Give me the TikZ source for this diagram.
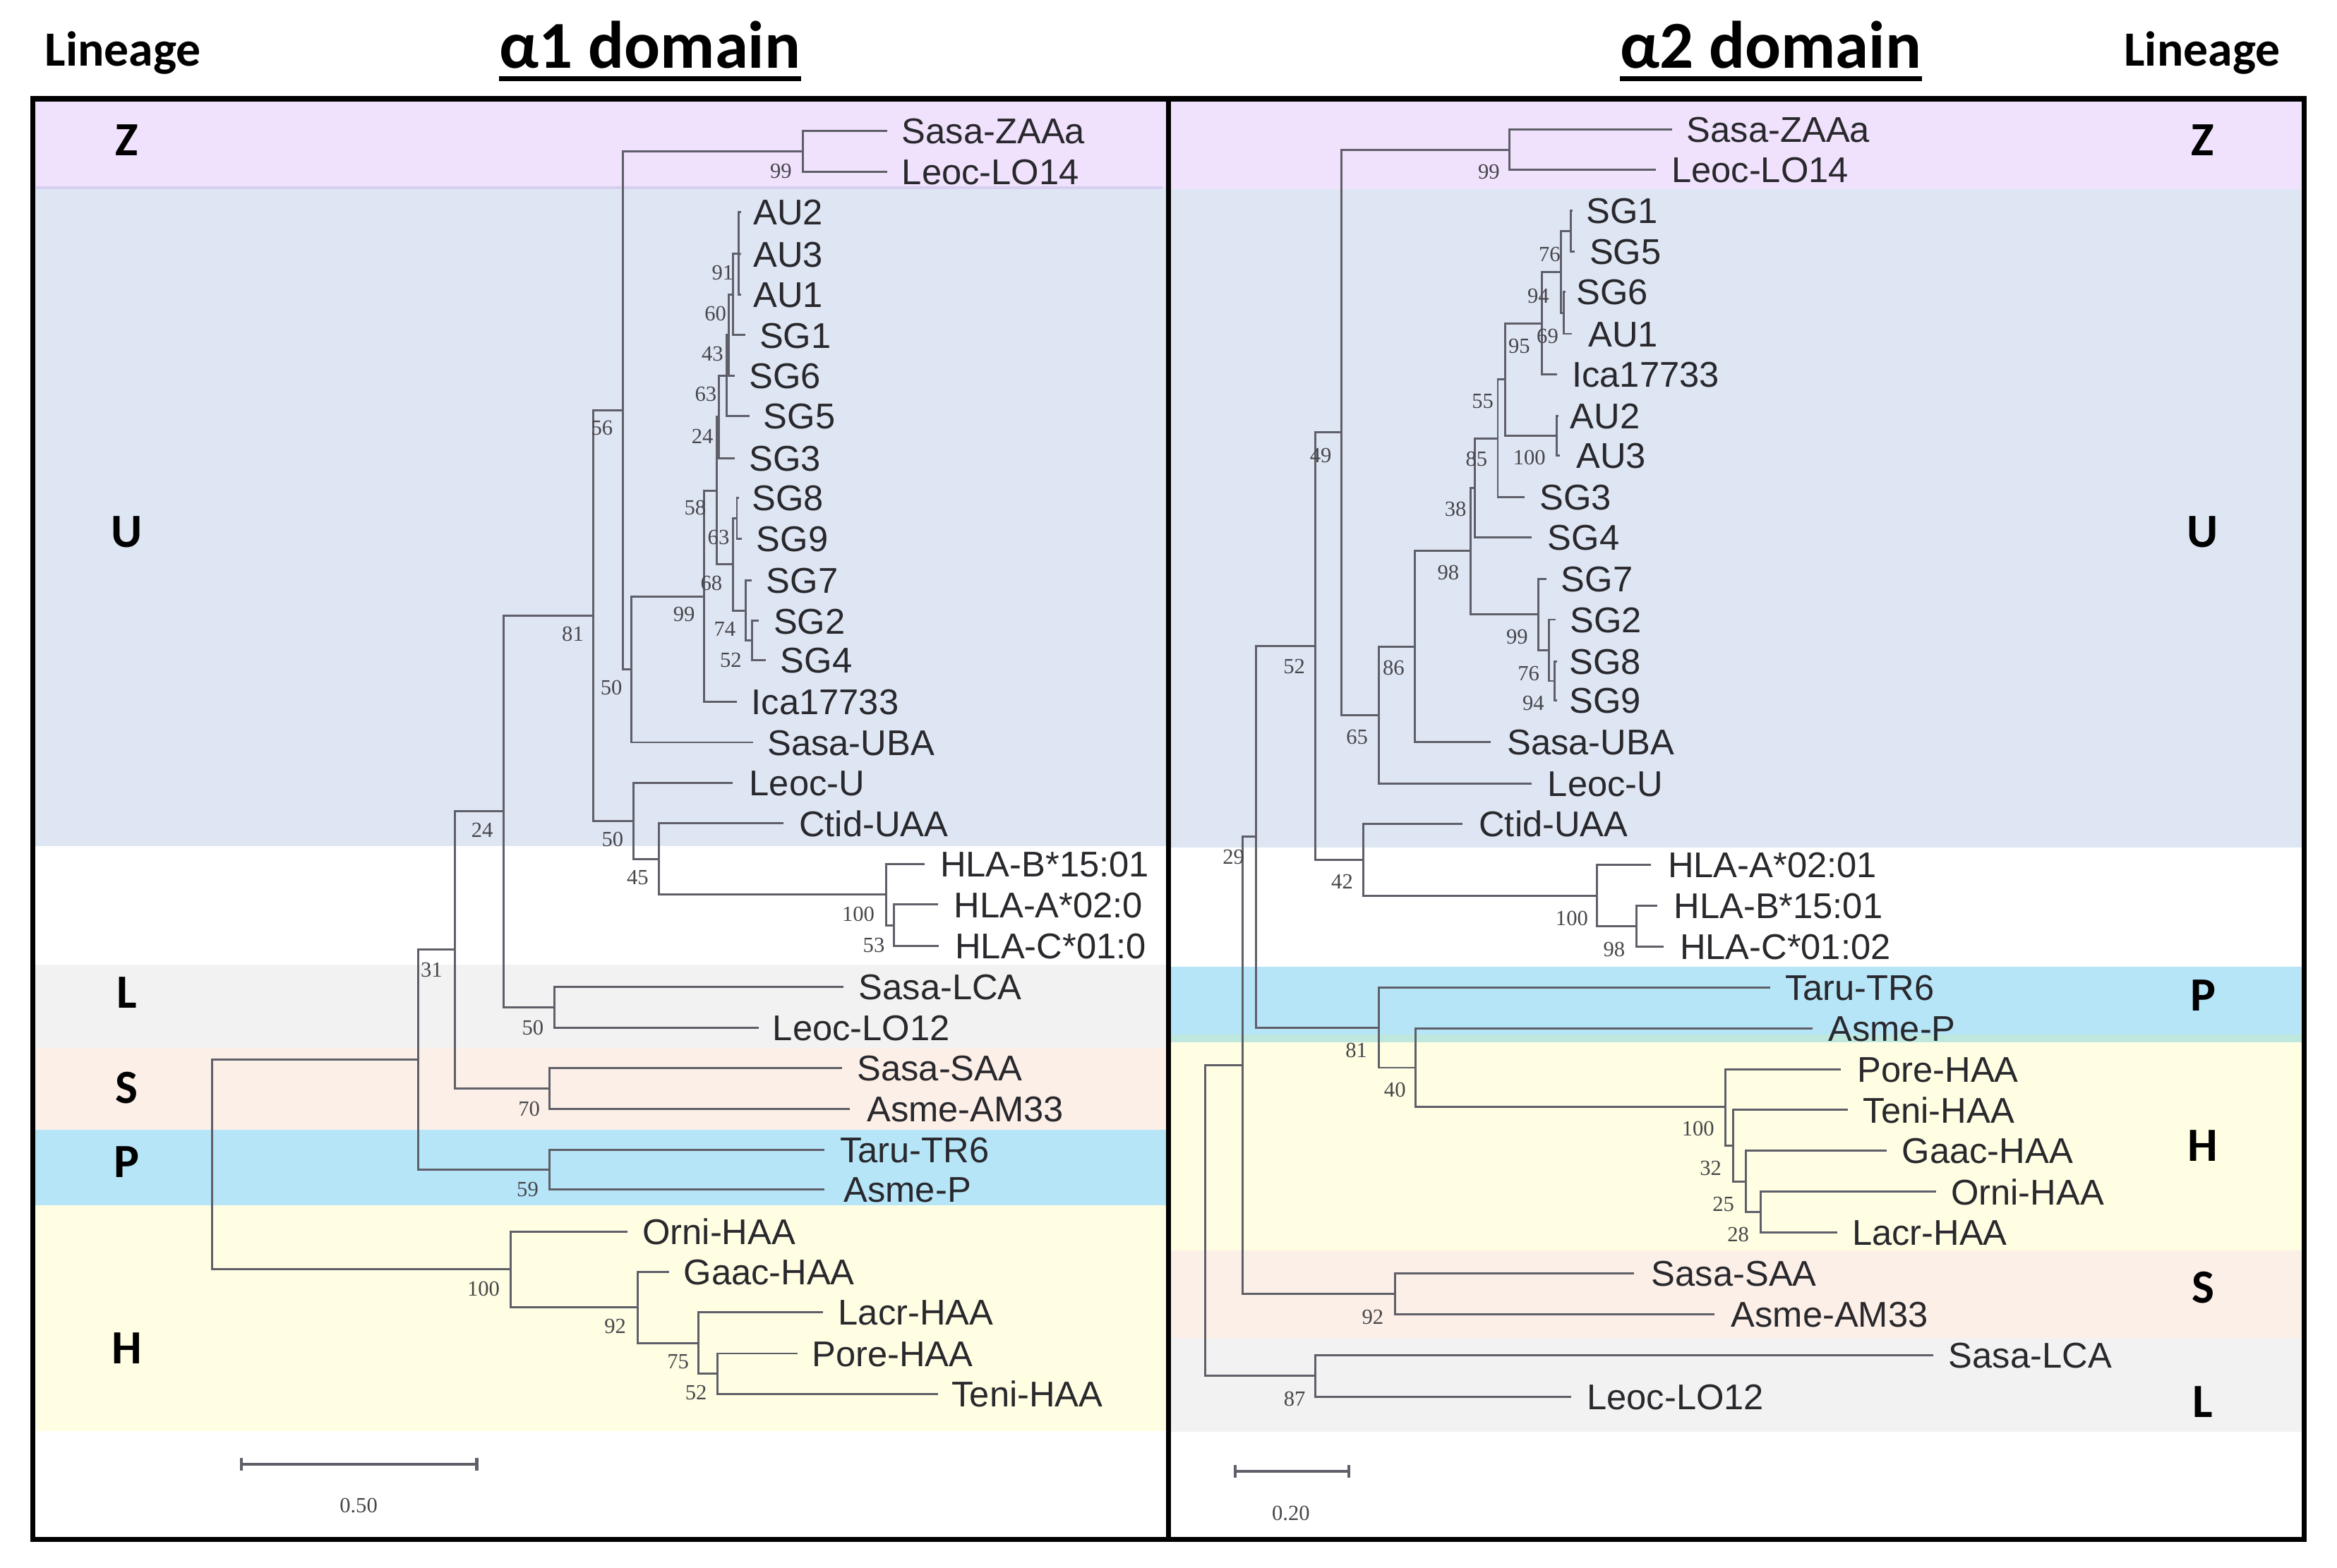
\documentclass[tikz,border=0pt]{standalone}
\usepackage{fontspec}
\setmainfont{Liberation Sans}
\newfontfamily\bootf{Liberation Serif}
\newfontfamily\hdrf{Carlito}
\definecolor{zcol}{RGB}{240,225,252}
\definecolor{zline}{RGB}{216,206,240}
\definecolor{ucol}{RGB}{223,230,243}
\definecolor{lcol}{RGB}{242,242,242}
\definecolor{scol}{RGB}{252,239,231}
\definecolor{pcol}{RGB}{183,229,248}
\definecolor{phcol}{RGB}{190,232,222}
\definecolor{hcol}{RGB}{255,254,227}
\definecolor{treecol}{RGB}{95,95,105}
\definecolor{txtcol}{RGB}{40,40,45}
\definecolor{bootcol}{RGB}{70,70,75}
\tikzset{
 brl/.style={draw=treecol, line width=1.4pt},
 leaf/.style={anchor=west, inner sep=0pt, text height=17.2pt, text depth=0pt, font=\fontsize{24}{28}\selectfont, text=txtcol},
 boot/.style={inner sep=0pt, font=\bootf\fontsize{14.5}{17}\selectfont, text=bootcol},
 lin/.style={inner sep=0pt, font=\hdrf\bfseries\fontsize{32}{36}\selectfont},
 hdr/.style={anchor=base west, inner sep=0pt, font=\hdrf\bfseries\fontsize{33}{38}\selectfont},
 ttl/.style={anchor=base west, inner sep=0pt, font=\hdrf\bfseries\fontsize{45}{50}\selectfont},
 panelframe/.style={draw=black, line width=3.5pt},
 scalebar/.style={draw=treecol, line width=2pt},
}
\newcommand\LF[5]{\coordinate (#1) at (#2,#3);\node[leaf] (#1t) at (#4,#3) {#5};}
\newcommand\BS[4]{\node[boot] (#1) at (#2,#3) {#4};}
\newcommand\BR[3]{\draw[brl] (#1) |- (#2) (#1) |- (#3);}
\begin{document}
\begin{tikzpicture}[x=1pt,y=-1pt]
\useasboundingbox (0,0) rectangle (1568,1052);
\fill[white] (0,0) rectangle (1568,1052);
% ---------- bands left ----------
\fill[zcol] (22,66) rectangle (784,125.5);
\fill[ucol] (22,125.5) rectangle (784,568);
\fill[lcol] (22,647.6) rectangle (784,703.1);
\fill[scol] (22,703.1) rectangle (784,758.4);
\fill[pcol] (22,758.4) rectangle (784,808.8);
\fill[hcol] (22,808.8) rectangle (784,960.4);
\draw[zline, line width=1.5pt] (24,126) -- (780,126);
% ---------- bands right ----------
\fill[zcol] (784,66) rectangle (1546,127);
\fill[ucol] (784,127) rectangle (1546,568.9);
\fill[pcol] (784,648.8) rectangle (1546,694.1);
\fill[phcol] (784,694.1) rectangle (1546,699.5);
\fill[hcol] (784,699.5) rectangle (1546,839.1);
\fill[scol] (784,839.1) rectangle (1546,897.9);
\fill[lcol] (784,897.9) rectangle (1546,960.8);
% ---------- headers ----------
\node[hdr] (hl) at (30,44.2) {Lineage};
\node[hdr] (hr) at (1425,44.2) {Lineage};
\node[ttl] (t1) at (335,45.8) {α1 domain};
\node[ttl] (t2) at (1087,45.8) {α2 domain};
\draw[line width=3pt] ([yshift=-7pt]t1.base west) -- ([yshift=-7pt]t1.base east);
\draw[line width=3pt] ([yshift=-7pt]t2.base west) -- ([yshift=-7pt]t2.base east);
% ---------- lineage letters ----------
\node[lin] (lzl) at (85,94) {Z};
\node[lin] (lul) at (85,357) {U};
\node[lin] (lll) at (85,666) {L};
\node[lin] (lsl) at (85,730) {S};
\node[lin] (lpl) at (85,780) {P};
\node[lin] (lhl) at (85,905) {H};
\node[lin] (lzr) at (1478,94) {Z};
\node[lin] (lur) at (1478,357) {U};
\node[lin] (lpr) at (1478,668) {P};
\node[lin] (lhr) at (1478,769) {H};
\node[lin] (lsr) at (1478,864) {S};
\node[lin] (llr) at (1478,941) {L};
% ---------- left tree: leaves ----------
\LF{aZa}{595.5}{87.7}{605}{Sasa-ZAAa}
\LF{aLO14}{595.5}{115.2}{605}{Leoc-LO14}
\LF{aAU2}{497.1}{142.4}{505.3}{AU2}
\LF{aAU3}{497.1}{170.5}{505.3}{AU3}
\LF{aAU1}{497.1}{197.7}{505.3}{AU1}
\LF{aSG1}{499.9}{224.9}{509.4}{SG1}
\LF{aSG6}{493}{252.1}{502.6}{SG6}
\LF{aSG5}{503.1}{279.3}{512.1}{SG5}
\LF{aSG3}{493}{307.4}{502.6}{SG3}
\LF{aSG8}{496}{334.2}{504.5}{SG8}
\LF{aSG9}{497.7}{361.4}{507.4}{SG9}
\LF{aSG7}{504.5}{389.5}{514}{SG7}
\LF{aSG2}{509.3}{416.7}{518.9}{SG2}
\LF{aSG4}{514}{443}{523.5}{SG4}
\LF{aIca}{494.4}{471.1}{504}{Ica17733}
\LF{aUBA}{505.3}{498.2}{514.8}{Sasa-UBA}
\LF{aLU}{491.7}{525.4}{502.6}{Leoc-U}
\LF{aCt}{525.7}{552.6}{536}{Ctid-UAA}
\LF{aHB}{620.2}{580}{630.7}{HLA-B*15:01}
\LF{aHA}{629.3}{607.1}{639.8}{HLA-A*02:0}
\LF{aHC}{629.7}{634.7}{640.7}{HLA-C*01:0}
\LF{aLCA}{566}{662.4}{576}{Sasa-LCA}
\LF{aLO12}{509}{689.6}{518.3}{Leoc-LO12}
\LF{aSAA}{565}{716.8}{575}{Sasa-SAA}
\LF{aAM}{570.4}{744}{581.5}{Asme-AM33}
\LF{aTR}{553}{771.5}{563.5}{Taru-TR6}
\LF{aAP}{553.3}{798.3}{566}{Asme-P}
\LF{aOr}{420.9}{826.5}{430.9}{Orni-HAA}
\LF{aGa}{449}{853.7}{458.5}{Gaac-HAA}
\LF{aLa}{552.3}{880.7}{562.3}{Lacr-HAA}
\LF{aPo}{535.1}{908.3}{544.6}{Pore-HAA}
\LF{aTe}{629.3}{935.4}{638.4}{Teni-HAA}
% ---------- left tree: internal nodes ----------
\coordinate (lroot) at (142.3,781.5);
\coordinate (lX) at (280.5,711.2);
\coordinate (l31) at (305.4,637.4);
\coordinate (l24) at (337.9,544.5);
\coordinate (lL) at (372,676);
\coordinate (lS) at (368.8,730.4);
\coordinate (lP) at (368.8,785);
\coordinate (l81) at (397.9,413);
\coordinate (l56) at (417.7,275.4);
\coordinate (lZ) at (538.7,101.6);
\coordinate (l50a) at (423.7,449.2);
\coordinate (l99) at (472.6,400.2);
\coordinate (l58) at (480.8,329.3);
\coordinate (l24s) at (482.2,279.8);
\coordinate (l63) at (487.6,252.1);
\coordinate (l43) at (489,224.9);
\coordinate (l60) at (491.7,197.6);
\coordinate (l91) at (495.7,170.3);
\coordinate (l68) at (491.7,378.8);
\coordinate (l63b) at (494.4,347.8);
\coordinate (l74) at (500.4,409.9);
\coordinate (l52) at (504.7,429.8);
\coordinate (l50b) at (425.1,550.8);
\coordinate (l45) at (441.9,576.4);
\coordinate (l100) at (594.4,600.3);
\coordinate (l53) at (599.9,620.9);
\coordinate (lH) at (342.5,851.8);
\coordinate (l92) at (427.7,877.5);
\coordinate (l75) at (468.5,901.5);
\coordinate (l52h) at (481.2,921.9);
\BR{lroot}{lX}{lH}
\BR{lX}{l31}{lP}
\BR{l31}{l24}{lS}
\BR{l24}{l81}{lL}
\BR{lL}{aLCA}{aLO12}
\BR{lS}{aSAA}{aAM}
\BR{lP}{aTR}{aAP}
\BR{l81}{l56}{l50b}
\BR{l56}{lZ}{l50a}
\BR{lZ}{aZa}{aLO14}
\BR{l50a}{l99}{aUBA}
\BR{l99}{l58}{aIca}
\BR{l58}{l24s}{l68}
\BR{l24s}{l63}{aSG3}
\BR{l63}{l43}{aSG5}
\BR{l43}{l60}{aSG6}
\BR{l60}{l91}{aSG1}
\BR{l91}{aAU2}{aAU1}
\draw[brl] (l91) -- (aAU3);
\BR{l68}{l63b}{l74}
\BR{l63b}{aSG8}{aSG9}
\BR{l74}{aSG7}{l52}
\BR{l52}{aSG2}{aSG4}
\BR{l50b}{aLU}{l45}
\BR{l45}{aCt}{l100}
\BR{l100}{aHB}{l53}
\BR{l53}{aHA}{aHC}
\BR{lH}{aOr}{l92}
\BR{l92}{aGa}{l75}
\BR{l75}{aLa}{l52h}
\BR{l52h}{aPo}{aTe}
% ---------- left bootstrap ----------
\BS{ba1}{524}{115}{99}
\BS{ba2}{484.9}{183.2}{91}
\BS{ba3}{480}{210.4}{60}
\BS{ba4}{478}{237.6}{43}
\BS{ba5}{473.5}{264.7}{63}
\BS{ba6}{471.3}{292.9}{24}
\BS{ba7}{403.9}{287.4}{56}
\BS{ba8}{466.4}{340.9}{58}
\BS{ba9}{482.1}{360.5}{63}
\BS{ba10}{477.3}{391.3}{68}
\BS{ba11}{459}{412.2}{99}
\BS{ba12}{486.3}{422.1}{74}
\BS{ba13}{490.3}{443}{52}
\BS{ba14}{384.3}{425.7}{81}
\BS{ba15}{410.2}{461.6}{50}
\BS{ba16}{411}{563.5}{50}
\BS{ba17}{427.8}{588.8}{45}
\BS{ba18}{575.9}{613.5}{100}
\BS{ba19}{586.3}{634.3}{53}
\BS{ba20}{323.5}{557}{24}
\BS{ba21}{289.5}{650.8}{31}
\BS{ba22}{357.5}{689.6}{50}
\BS{ba23}{355}{744}{70}
\BS{ba24}{354}{798}{59}
\BS{ba25}{324.4}{864.9}{100}
\BS{ba26}{412.8}{889.9}{92}
\BS{ba27}{454.9}{914}{75}
\BS{ba28}{467}{934.6}{52}
% ---------- right tree: leaves ----------
\LF{bZa}{1122}{86.8}{1131.6}{Sasa-ZAAa}
\LF{bLO14}{1111.2}{114}{1121.3}{Leoc-LO14}
\LF{bSG1}{1055}{141.5}{1064.2}{SG1}
\LF{bSG5}{1056.5}{168.7}{1066.3}{SG5}
\LF{bSG6}{1050.5}{195.9}{1057.4}{SG6}
\LF{bAU1}{1054.6}{224}{1065.5}{AU1}
\LF{bIca}{1044.6}{251.2}{1054.6}{Ica17733}
\LF{bAU2}{1045.5}{279.2}{1053.3}{AU2}
\LF{bAU3}{1046.5}{305.5}{1057.4}{AU3}
\LF{bSG3}{1022.8}{333.6}{1032.9}{SG3}
\LF{bSG4}{1027.5}{360.5}{1038.3}{SG4}
\LF{bSG7}{1037.5}{388.6}{1047.3}{SG7}
\LF{bSG2}{1043.8}{415.8}{1053.3}{SG2}
\LF{bSG8}{1044.5}{443.9}{1052.7}{SG8}
\LF{bSG9}{1044.5}{470.1}{1052.7}{SG9}
\LF{bUBA}{1000.3}{497.9}{1011.1}{Sasa-UBA}
\LF{bLU}{1027.5}{525.8}{1038.3}{Leoc-U}
\LF{bCt}{981.2}{553}{992.1}{Ctid-UAA}
\LF{bHA}{1107.9}{580.3}{1118.9}{HLA-A*02:01}
\LF{bHB}{1111.9}{607.7}{1122.9}{HLA-B*15:01}
\LF{bHC}{1116.4}{635.2}{1126.9}{HLA-C*01:02}
\LF{bTR}{1187.7}{662.8}{1197.6}{Taru-TR6}
\LF{bAP}{1216.1}{690.1}{1226.6}{Asme-P}
\LF{bPo}{1235}{717.7}{1246}{Pore-HAA}
\LF{bTe}{1240}{744.9}{1250}{Teni-HAA}
\LF{bGa}{1265.9}{772}{1275.9}{Gaac-HAA}
\LF{bOr}{1298.9}{799.8}{1308.8}{Orni-HAA}
\LF{bLa}{1232.6}{827}{1242.5}{Lacr-HAA}
\LF{bSAA}{1096.5}{854.6}{1107.9}{Sasa-SAA}
\LF{bAM}{1150.3}{881.8}{1161.3}{Asme-AM33}
\LF{bLCA}{1297.3}{909.6}{1307.3}{Sasa-LCA}
\LF{bLO12}{1054.1}{937.2}{1064.5}{Leoc-LO12}
% ---------- right tree: internal nodes ----------
\coordinate (rroot) at (808.8,819.2);
\coordinate (rA) at (833.7,714.95);
\coordinate (r29) at (842.6,561.6);
\coordinate (r52) at (882.5,433.6);
\coordinate (r49) at (900.2,290.2);
\coordinate (rZ) at (1012.5,100.7);
\coordinate (r65) at (925,479.8);
\coordinate (r86) at (949.4,433.9);
\coordinate (r98) at (986.7,369.8);
\coordinate (r38) at (989.4,327.4);
\coordinate (r85) at (1004.9,294.2);
\coordinate (r55) at (1009.8,254.7);
\coordinate (r95) at (1034.3,217);
\coordinate (r94) at (1047.3,182.7);
\coordinate (r76) at (1053.8,155.1);
\coordinate (r69) at (1049.2,210);
\coordinate (r100a) at (1044.3,292.4);
\coordinate (r99) at (1032.1,412.4);
\coordinate (r76b) at (1039.2,436.2);
\coordinate (r94b) at (1043,457);
\coordinate (r42) at (914.6,577.1);
\coordinate (r100h) at (1071.5,601);
\coordinate (r98h) at (1098,621.5);
\coordinate (r81) at (925,689.6);
\coordinate (r40) at (949.9,716.5);
\coordinate (r100H) at (1157.8,743);
\coordinate (r32) at (1162.7,768.9);
\coordinate (r25) at (1171.2,792.9);
\coordinate (r28) at (1181.2,813.4);
\coordinate (rS) at (935.9,868.3);
\coordinate (rL) at (882.6,923.4);
\BR{rroot}{rA}{rL}
\BR{rA}{r29}{rS}
\BR{r29}{r52}{r81}
\BR{r52}{r49}{r42}
\BR{r49}{rZ}{r65}
\BR{rZ}{bZa}{bLO14}
\BR{r65}{r86}{bLU}
\BR{r86}{r98}{bUBA}
\BR{r98}{r38}{r99}
\BR{r38}{r85}{bSG4}
\BR{r85}{r55}{bSG3}
\BR{r55}{r95}{r100a}
\BR{r95}{r94}{bIca}
\BR{r94}{r76}{r69}
\BR{r76}{bSG1}{bSG5}
\BR{r69}{bSG6}{bAU1}
\BR{r100a}{bAU2}{bAU3}
\BR{r99}{bSG7}{r76b}
\BR{r76b}{bSG2}{r94b}
\BR{r94b}{bSG8}{bSG9}
\BR{r42}{bCt}{r100h}
\BR{r100h}{bHA}{r98h}
\BR{r98h}{bHB}{bHC}
\BR{r81}{bTR}{r40}
\BR{r40}{bAP}{r100H}
\BR{r100H}{bPo}{r32}
\BR{r32}{bTe}{r25}
\BR{r25}{bGa}{r28}
\BR{r28}{bOr}{bLa}
\BR{rS}{bSAA}{bAM}
\BR{rL}{bLCA}{bLO12}
% ---------- right bootstrap ----------
\BS{bb1}{998.9}{115.2}{99}
\BS{bb2}{1039.7}{170.5}{76}
\BS{bb3}{1032.1}{198.6}{94}
\BS{bb4}{1038.3}{225.8}{69}
\BS{bb5}{1019.3}{232.1}{95}
\BS{bb6}{994.8}{269.3}{55}
\BS{bb7}{1026.1}{307.3}{100}
\BS{bb8}{990.7}{308.2}{85}
\BS{bb9}{886.1}{305.5}{49}
\BS{bb10}{976.6}{341.5}{38}
\BS{bb11}{971.7}{384.1}{98}
\BS{bb12}{1017.9}{427.5}{99}
\BS{bb13}{1025.6}{452}{76}
\BS{bb14}{1028.8}{472}{94}
\BS{bb15}{935}{448.4}{86}
\BS{bb16}{868.4}{447.5}{52}
\BS{bb17}{910.5}{494.6}{65}
\BS{bb18}{827.6}{575.2}{29}
\BS{bb19}{900.5}{591.6}{42}
\BS{bb20}{1054.6}{616.2}{100}
\BS{bb21}{1083}{637}{98}
\BS{bb22}{910}{705}{81}
\BS{bb23}{935.9}{731.3}{40}
\BS{bb24}{1139.3}{757.5}{100}
\BS{bb25}{1147.8}{783.8}{32}
\BS{bb26}{1156.3}{808.3}{25}
\BS{bb27}{1166.2}{828.7}{28}
\BS{bb28}{921}{883.8}{92}
\BS{bb29}{868.6}{938.9}{87}
% ---------- scale bars ----------
\coordinate (sa1) at (161.8,982.5);
\coordinate (sa2) at (319.9,982.5);
\draw[scalebar] (sa1) -- (sa2);
\draw[scalebar] ([yshift=4.3pt]sa1) -- ([yshift=-4.3pt]sa1);
\draw[scalebar] ([yshift=4.3pt]sa2) -- ([yshift=-4.3pt]sa2);
\BS{sla}{240.6}{1010.4}{0.50}
\coordinate (sb1) at (828.8,987.5);
\coordinate (sb2) at (905,987.5);
\draw[scalebar] (sb1) -- (sb2);
\draw[scalebar] ([yshift=4.3pt]sb1) -- ([yshift=-4.3pt]sb1);
\draw[scalebar] ([yshift=4.3pt]sb2) -- ([yshift=-4.3pt]sb2);
\BS{slb}{866.1}{1015.5}{0.20}
% ---------- frame ----------
\draw[panelframe] (22,66.3) rectangle (1546,1033);
\draw[panelframe] (784,66.3) -- (784,1033);
\end{tikzpicture}
\end{document}
